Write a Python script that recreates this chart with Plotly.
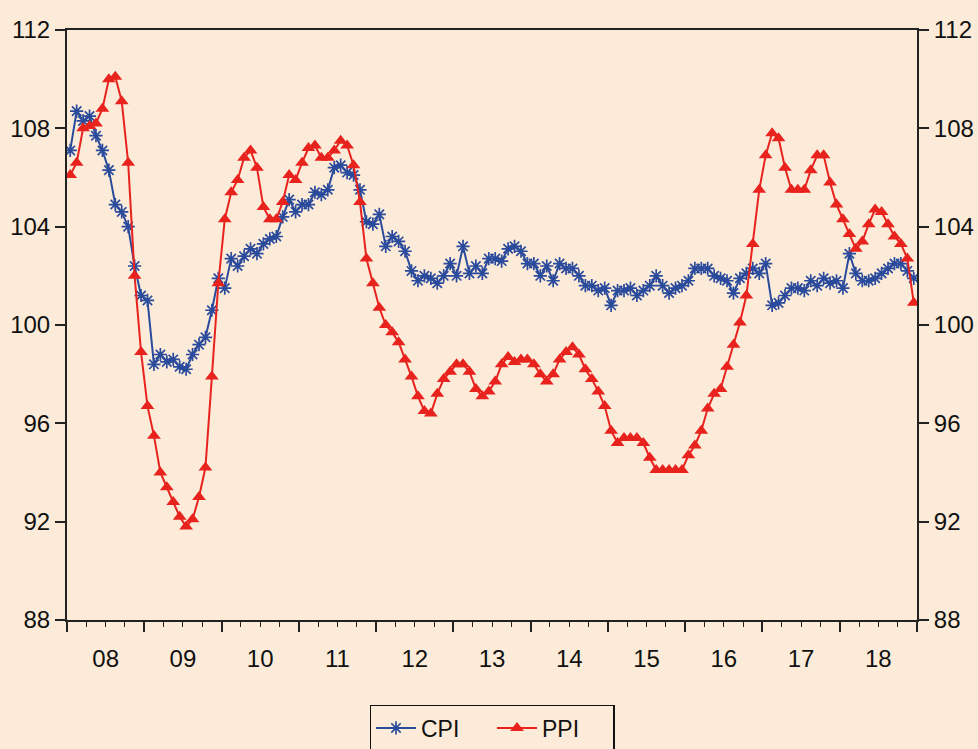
import plotly.graph_objects as go

years = list(range(2008, 2019))
tick_labels = ["08", "09", "10", "11", "12", "13", "14", "15", "16", "17", "18"]

cpi = [
    107.1, 108.7, 108.3, 108.5, 107.7, 107.1, 106.3, 104.9, 104.6, 104.0, 102.4, 101.2,
    101.0, 98.4, 98.8, 98.5, 98.6, 98.3, 98.2, 98.8, 99.2, 99.5, 100.6, 101.9,
    101.5, 102.7, 102.4, 102.8, 103.1, 102.9, 103.3, 103.5, 103.6, 104.4, 105.1, 104.6,
    104.9, 104.9, 105.4, 105.3, 105.5, 106.4, 106.5, 106.2, 106.1, 105.5, 104.2, 104.1,
    104.5, 103.2, 103.6, 103.4, 103.0, 102.2, 101.8, 102.0, 101.9, 101.7, 102.0, 102.5,
    102.0, 103.2, 102.1, 102.4, 102.1, 102.7, 102.7, 102.6, 103.1, 103.2, 103.0, 102.5,
    102.5, 102.0, 102.4, 101.8, 102.5, 102.3, 102.3, 102.0, 101.6, 101.6, 101.4, 101.5,
    100.8, 101.4, 101.4, 101.5, 101.2, 101.4, 101.6, 102.0, 101.6, 101.3, 101.5, 101.6,
    101.8, 102.3, 102.3, 102.3, 102.0, 101.9, 101.8, 101.3, 101.9, 102.1, 102.3, 102.1,
    102.5, 100.8, 100.9, 101.2, 101.5, 101.5, 101.4, 101.8, 101.6, 101.9, 101.7, 101.8,
    101.5, 102.9, 102.1, 101.8, 101.8, 101.9, 102.1, 102.3, 102.5, 102.5, 102.2, 101.9,
]

ppi = [
    106.1, 106.6, 108.0, 108.1, 108.2, 108.8, 110.0, 110.1, 109.1, 106.6, 102.0, 98.9,
    96.7, 95.5, 94.0, 93.4, 92.8, 92.2, 91.8, 92.1, 93.0, 94.2, 97.9, 101.7,
    104.3, 105.4, 105.9, 106.8, 107.1, 106.4, 104.8, 104.3, 104.3, 105.0, 106.1, 105.9,
    106.6, 107.2, 107.3, 106.8, 106.8, 107.1, 107.5, 107.3, 106.5, 105.0, 102.7, 101.7,
    100.7, 100.0, 99.7, 99.3, 98.6, 97.9, 97.1, 96.5, 96.4, 97.2, 97.8, 98.1,
    98.4, 98.4, 98.1, 97.4, 97.1, 97.3, 97.7, 98.4, 98.7, 98.5, 98.6, 98.6,
    98.4, 98.0, 97.7, 98.0, 98.6, 98.9, 99.1, 98.8, 98.2, 97.8, 97.3, 96.7,
    95.7, 95.2, 95.4, 95.4, 95.4, 95.2, 94.6, 94.1, 94.1, 94.1, 94.1, 94.1,
    94.7, 95.1, 95.7, 96.6, 97.2, 97.4, 98.3, 99.2, 100.1, 101.2, 103.3, 105.5,
    106.9, 107.8, 107.6, 106.4, 105.5, 105.5, 105.5, 106.3, 106.9, 106.9, 105.8, 104.9,
    104.3, 103.7, 103.1, 103.4, 104.1, 104.7, 104.6, 104.1, 103.6, 103.3, 102.7, 100.9,
]

months = [2008 + (i + 0.5) / 12 for i in range(len(cpi))]
y_ticks = [88, 92, 96, 100, 104, 108, 112]

BG = "#FBEBD8"
FONT = "Liberation Sans, Arial, sans-serif"

fig = go.Figure()
fig.add_trace(go.Scatter(
    x=months, y=cpi, name="CPI", mode="lines+markers",
    line=dict(color="#2A4A9C", width=2),
    marker=dict(symbol="asterisk-open", size=11, color="#2A4A9C",
                line=dict(width=1.7, color="#2A4A9C")),
))
fig.add_trace(go.Scatter(
    x=months, y=ppi, name="PPI", mode="lines+markers",
    line=dict(color="#E8231E", width=2),
    marker=dict(symbol="triangle-up", size=12, color="#E8231E"),
))
# invisible trace to activate secondary axes
fig.add_trace(go.Scatter(x=[2008, 2019], y=[88, 112], xaxis="x2", yaxis="y2",
                         mode="markers", marker=dict(opacity=0), showlegend=False,
                         hoverinfo="skip"))

fig.update_layout(
    width=978, height=749,
    paper_bgcolor=BG, plot_bgcolor=BG,
    margin=dict(l=67, r=61, t=30, b=129, autoexpand=False),
    font=dict(family=FONT, size=24, color="#111111"),
    showlegend=True,
    legend=dict(orientation="h", x=0.5, xanchor="center", y=-0.144, yanchor="top",
                bgcolor=BG, bordercolor="#111111", borderwidth=1.5,
                font=dict(size=23), itemwidth=40, entrywidth=66,
                tracegroupgap=0),
    xaxis=dict(range=[2008, 2019], tickvals=list(range(2008, 2020)),
               ticks="outside", ticklen=10, tickwidth=1.5, tickcolor="#222",
               showticklabels=False, showgrid=False, zeroline=False,
               automargin=False,
               showline=True, linecolor="#222", linewidth=2, mirror=True,
               minor=dict(dtick=0.25, tick0=2008, ticks="outside", ticklen=5,
                          tickwidth=1.2, tickcolor="#222", showgrid=False)),
    xaxis2=dict(overlaying="x", side="bottom", range=[2008, 2019],
                tickvals=[y + 0.5 for y in years], ticktext=tick_labels,
                ticks="outside", ticklen=17, tickcolor="rgba(0,0,0,0)",
                showline=False, showgrid=False, zeroline=False, automargin=False,
                tickfont=dict(size=24)),
    yaxis=dict(range=[88, 112], tickvals=y_ticks, ticks="outside", ticklen=10,
               tickwidth=1.5, tickcolor="#222", showgrid=False, zeroline=False,
               automargin=False,
               showline=True, linecolor="#222", linewidth=2, mirror=True),
    yaxis2=dict(overlaying="y", side="right", range=[88, 112], tickvals=y_ticks,
                ticks="outside", ticklen=10, tickwidth=1.5, tickcolor="#222",
                showgrid=False, zeroline=False, showline=True, automargin=False,
                linecolor="#222", linewidth=2),
)

fig.write_html(
    "out.html",
    config={"displayModeBar": False},
    post_script="document.body.style.margin='0';"
                "document.body.style.overflow='hidden';"
                "document.body.style.background='" + BG + "';",
)
